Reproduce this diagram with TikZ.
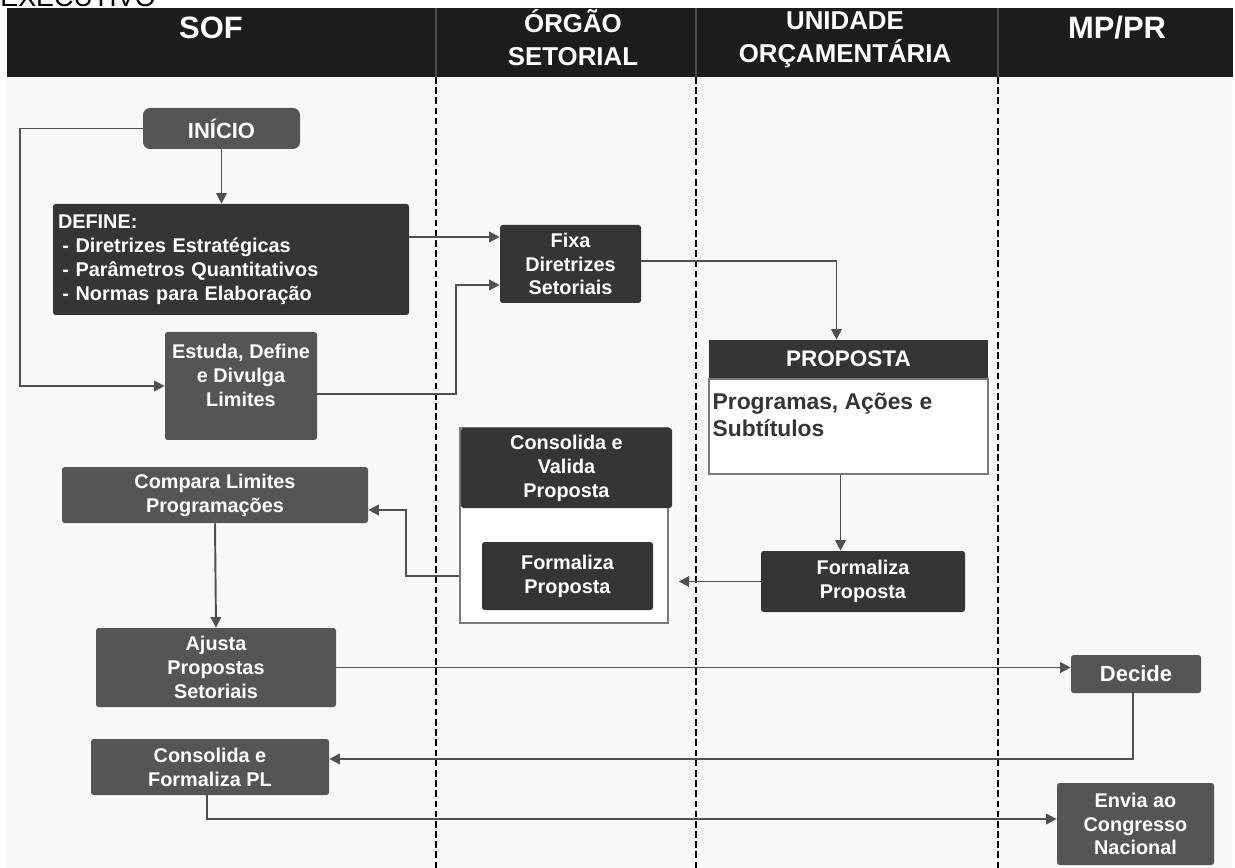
\documentclass[tikz,border=0pt]{standalone}
\usepackage{fontspec}
\setmainfont{Liberation Sans}
\usetikzlibrary{arrows.meta,positioning}

\newlength\px
\setlength\px{0.02cm}

\definecolor{headblack}{HTML}{1C1C1C}
\definecolor{boxdark}{HTML}{353535}
\definecolor{boxmid}{HTML}{555555}
\definecolor{linegray}{HTML}{505050}
\definecolor{bglight}{HTML}{F8F8F8}
\definecolor{framegray}{HTML}{7A7A7A}

\tikzset{
  box/.style={fill=boxdark, text=white, align=center, inner sep=0pt, rounded corners=1.5pt,
    font=\fontsize{11.3}{13.6}\selectfont\bfseries},
  midbox/.style={box, fill=boxmid},
  boxtext/.style={text=white, align=center, inner sep=0pt, font=\fontsize{11.3}{13.6}\selectfont\bfseries},
  frame/.style={draw=framegray, fill=white, line width=0.8pt, inner sep=0pt},
  flow/.style={draw=linegray, line width=1.1pt, -{Triangle[length=6pt,width=6pt]}},
  lane/.style={black, line width=0.8pt, dash pattern=on 3.8pt off 2pt},
  headtext/.style={text=white, align=center, inner sep=0pt}
}

\begin{document}
\begin{tikzpicture}[x=0.02cm, y=-0.02cm]
  \useasboundingbox (0,0) rectangle (1235,868);
  \fill[white] (0,0) rectangle (1235,868);
  \node[anchor=base west, inner sep=0pt, font=\fontsize{15.3}{18}\selectfont] (exec) at (0,7) {EXECUTIVO};

  \fill[bglight] (7,77) rectangle (1233,868);
  \fill[headblack] (7,8) rectangle (1233,77);
  \foreach \x in {436,696,998}{
    \draw[gray!60!black, line width=0.6pt] (\x,8) -- (\x,77);
    \draw[lane] (\x,77) -- (\x,868);
  }

  \node[headtext, font=\fontsize{17.6}{20}\selectfont\bfseries] (sof) at (211,28) {SOF};
  \node[headtext, font=\fontsize{14.7}{18.7}\selectfont\bfseries] (orgao) at (573,38) {ÓRGÃO\\SETORIAL};
  \node[headtext, font=\fontsize{14.7}{18.7}\selectfont\bfseries] (unid) at (845,40) {UNIDADE\\ORÇAMENTÁRIA};
  \node[headtext, font=\fontsize{17.6}{20}\selectfont\bfseries] (mppr) at (1117,28) {MP/PR};

  \node[midbox, rounded corners=4pt, minimum width=157\px, minimum height=41\px,
    font=\fontsize{12.5}{15}\selectfont\bfseries] (inicio) at (221.5,128.5) {INÍCIO};
  \node[box, align=left, text width=346\px, inner xsep=5\px, minimum height=111\px] (define) at (231,259.5)
    {DEFINE:\\\hspace*{2.5pt}- Diretrizes Estratégicas\\\hspace*{2.5pt}- Parâmetros Quantitativos\\\hspace*{2.5pt}- Normas para Elaboração};
  \node[midbox, minimum width=152\px, minimum height=108\px,
    label={[boxtext, anchor=north, yshift=-12\px]north:{Estuda, Define\\e Divulga\\Limites}}] (estuda) at (241,386) {};
  \node[box, minimum width=141\px, minimum height=78\px] (fixa) at (570.5,264) {Fixa\\Diretrizes\\Setoriais};

  \node[box, minimum width=279\px, minimum height=38\px, rounded corners=0pt,
    font=\fontsize{12.8}{15}\selectfont\bfseries] (prophead) at (848.5,359) {PROPOSTA};
  \node[frame, minimum width=279\px, minimum height=95\px, below=0pt of prophead,
    label={[anchor=north west, xshift=4\px, yshift=-14\px, inner sep=0pt, align=left, text=boxdark,
      font=\fontsize{13}{15.3}\selectfont\bfseries]north west:{Programas, Ações e\\Subtítulos}}] (propbody) {};

  \node[frame, minimum width=208\px, minimum height=195\px] (contain) at (564,525.5) {};
  \node[box, minimum width=211\px, minimum height=80\px] (consval) at (566.5,468) {Consolida e\\Valida\\Proposta};
  \node[box, minimum width=171\px, minimum height=68\px] (formin) at (567.5,576) {Formaliza\\Proposta};
  \node[box, minimum width=204\px, minimum height=61\px] (formuo) at (863,581.5) {Formaliza\\Proposta};

  \node[midbox, minimum width=306\px, minimum height=56\px] (compara) at (215,495) {Compara Limites\\Programações};
  \node[midbox, minimum width=240\px, minimum height=79\px] (ajusta) at (216,667.5) {Ajusta\\Propostas\\Setoriais};
  \node[midbox, minimum width=130\px, minimum height=38\px,
    font=\fontsize{12.5}{15}\selectfont\bfseries] (decide) at (1136,674) {Decide};
  \node[midbox, minimum width=238\px, minimum height=56\px] (conspl) at (210,767) {Consolida e\\Formaliza PL};
  \node[midbox, minimum width=157\px, minimum height=82\px] (envia) at (1135.5,824) {Envia ao\\Congresso\\Nacional};

  \coordinate (fixin1) at ([yshift=27\px]fixa.west);
  \coordinate (fixin2) at ([yshift=-21\px]fixa.west);
  \coordinate (cmpin) at ([yshift=-15\px]compara.east);
  \coordinate (plin) at ([yshift=8\px]conspl.east);
  \coordinate (envin) at ([yshift=5\px]envia.west);

  \draw[flow] (inicio.south) -- (inicio.south |- define.north);
  \draw[flow] (inicio.west) -- ++(-123,0) |- (estuda.west);
  \draw[flow] (define.east |- fixin1) -- (fixin1);
  \draw[flow] ([yshift=-8\px]estuda.east) -- ++(139,0) |- (fixin2);
  \draw[flow] ([yshift=3\px]fixa.east) -| ([xshift=-12\px]prophead.north);
  \draw[flow] ([xshift=-8\px]propbody.south) -- ([xshift=-8\px]propbody.south |- formuo.north);
  \draw[flow, shorten >=10\px] (formuo.west) -- (formuo.west -| contain.east);
  \draw[flow] (contain.west |- formin.west) -- ++(-53,0) |- (cmpin);
  \draw[flow] (compara.south) -- (ajusta.north);
  \draw[flow] (ajusta.east) -- (ajusta.east -| decide.west);
  \draw[flow] ([xshift=-3\px]decide.south) |- (plin);
  \draw[flow] ([xshift=-3\px]conspl.south) |- (envin);
\end{tikzpicture}
\end{document}
